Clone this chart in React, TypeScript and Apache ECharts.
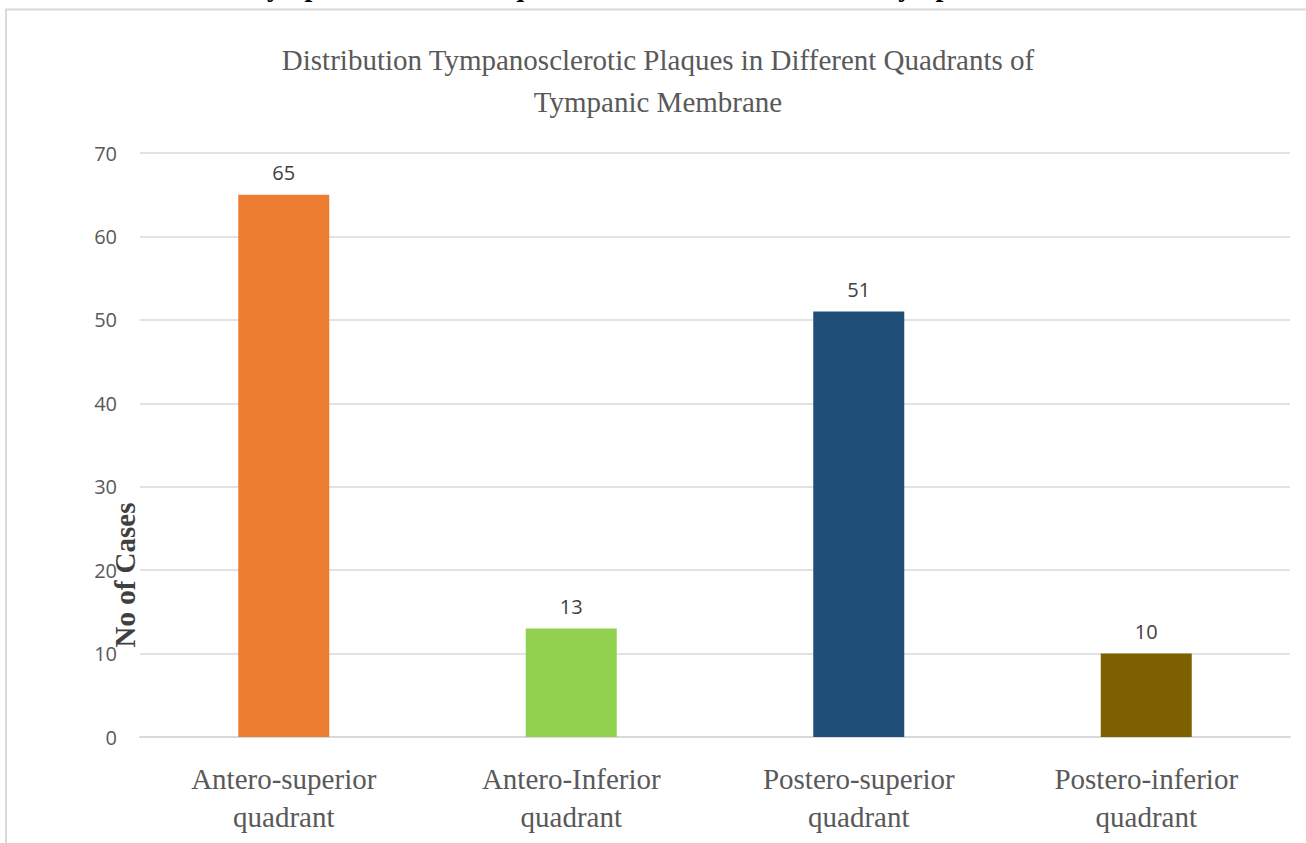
import React, { useEffect, useRef } from "react";
import * as echarts from "echarts";

const categories = [
  "Antero-superior\nquadrant",
  "Antero-Inferior\nquadrant",
  "Postero-superior\nquadrant",
  "Postero-inferior\nquadrant",
];
const caseCounts = [65, 13, 51, 10];
const barColors = ["#ED7D31", "#92D050", "#1F4E79", "#7F6000"];
const yTicks = { min: 0, max: 70, interval: 10 };

const chartTitle =
  "Distribution Tympanosclerotic Plaques in Different Quadrants of\nTympanic Membrane";
const figureCaption =
  "Figure 3: Distribution of Tympanosclerotic Plaques in Different Quadrants of Tympanic Membrane";
const yAxisName = "No of Cases";

export default function App() {
  const ref = useRef<HTMLDivElement>(null);

  useEffect(() => {
    if (!ref.current) return;
    const chart = echarts.init(ref.current, null, { renderer: "svg" });
    chart.setOption({
      animation: false,
      backgroundColor: "#ffffff",
      grid: { left: 140, right: 16, top: 153, bottom: 106, containLabel: false },
      xAxis: {
        type: "category",
        data: categories,
        axisLine: { show: true, lineStyle: { color: "#d9d9d9", width: 2 } },
        axisTick: { show: false },
        axisLabel: {
          color: "#595959",
          fontFamily: "Liberation Serif",
          fontSize: 29,
          lineHeight: 38,
          margin: 23,
          interval: 0,
        },
      },
      yAxis: {
        type: "value",
        min: yTicks.min,
        max: yTicks.max,
        interval: yTicks.interval,
        axisLine: { show: false },
        axisTick: { show: false },
        splitLine: { lineStyle: { color: "#d9d9d9", width: 1.5 } },
        axisLabel: {
          color: "#595959",
          fontFamily: "Open Sans",
          fontSize: 20,
          margin: 23,
          padding: [8, 0, 0, 0],
        },
      },
      series: [
        {
          type: "bar",
          barWidth: 91,
          data: caseCounts.map((v, i) => ({
            value: v,
            itemStyle: { color: barColors[i] },
          })),
          label: {
            show: true,
            position: "top",
            distance: 12,
            color: "#404040",
            fontFamily: "Open Sans",
            fontSize: 20,
          },
        },
      ],
      graphic: [
        {
          type: "rect",
          z: -10,
          shape: { x: 6, y: 9.5, width: 1400, height: 900 },
          style: { fill: "none", stroke: "#d9d9d9", lineWidth: 2 },
        },
        {
          type: "text",
          x: 1140,
          y: 0,
          style: {
            text: figureCaption,
            fill: "#000000",
            font: "bold 28px 'Liberation Serif'",
            textAlign: "right",
            textVerticalAlign: "bottom",
          },
        },
        {
          type: "text",
          x: 658,
          y: 81,
          style: {
            text: chartTitle,
            fill: "#595959",
            font: "29px 'Liberation Serif'",
            lineHeight: 42,
            textAlign: "center",
            textVerticalAlign: "middle",
          },
        },
        {
          type: "text",
          x: 125,
          y: 575,
          rotation: Math.PI / 2,
          style: {
            text: yAxisName,
            fill: "#404040",
            font: "bold 29px 'Liberation Serif'",
            textAlign: "center",
            textVerticalAlign: "middle",
          },
        },
      ],
    });
    return () => chart.dispose();
  }, []);

  return (
    <div
      ref={ref}
      style={{ position: "fixed", left: 0, top: 0, width: 1306, height: 843 }}
    />
  );
}
